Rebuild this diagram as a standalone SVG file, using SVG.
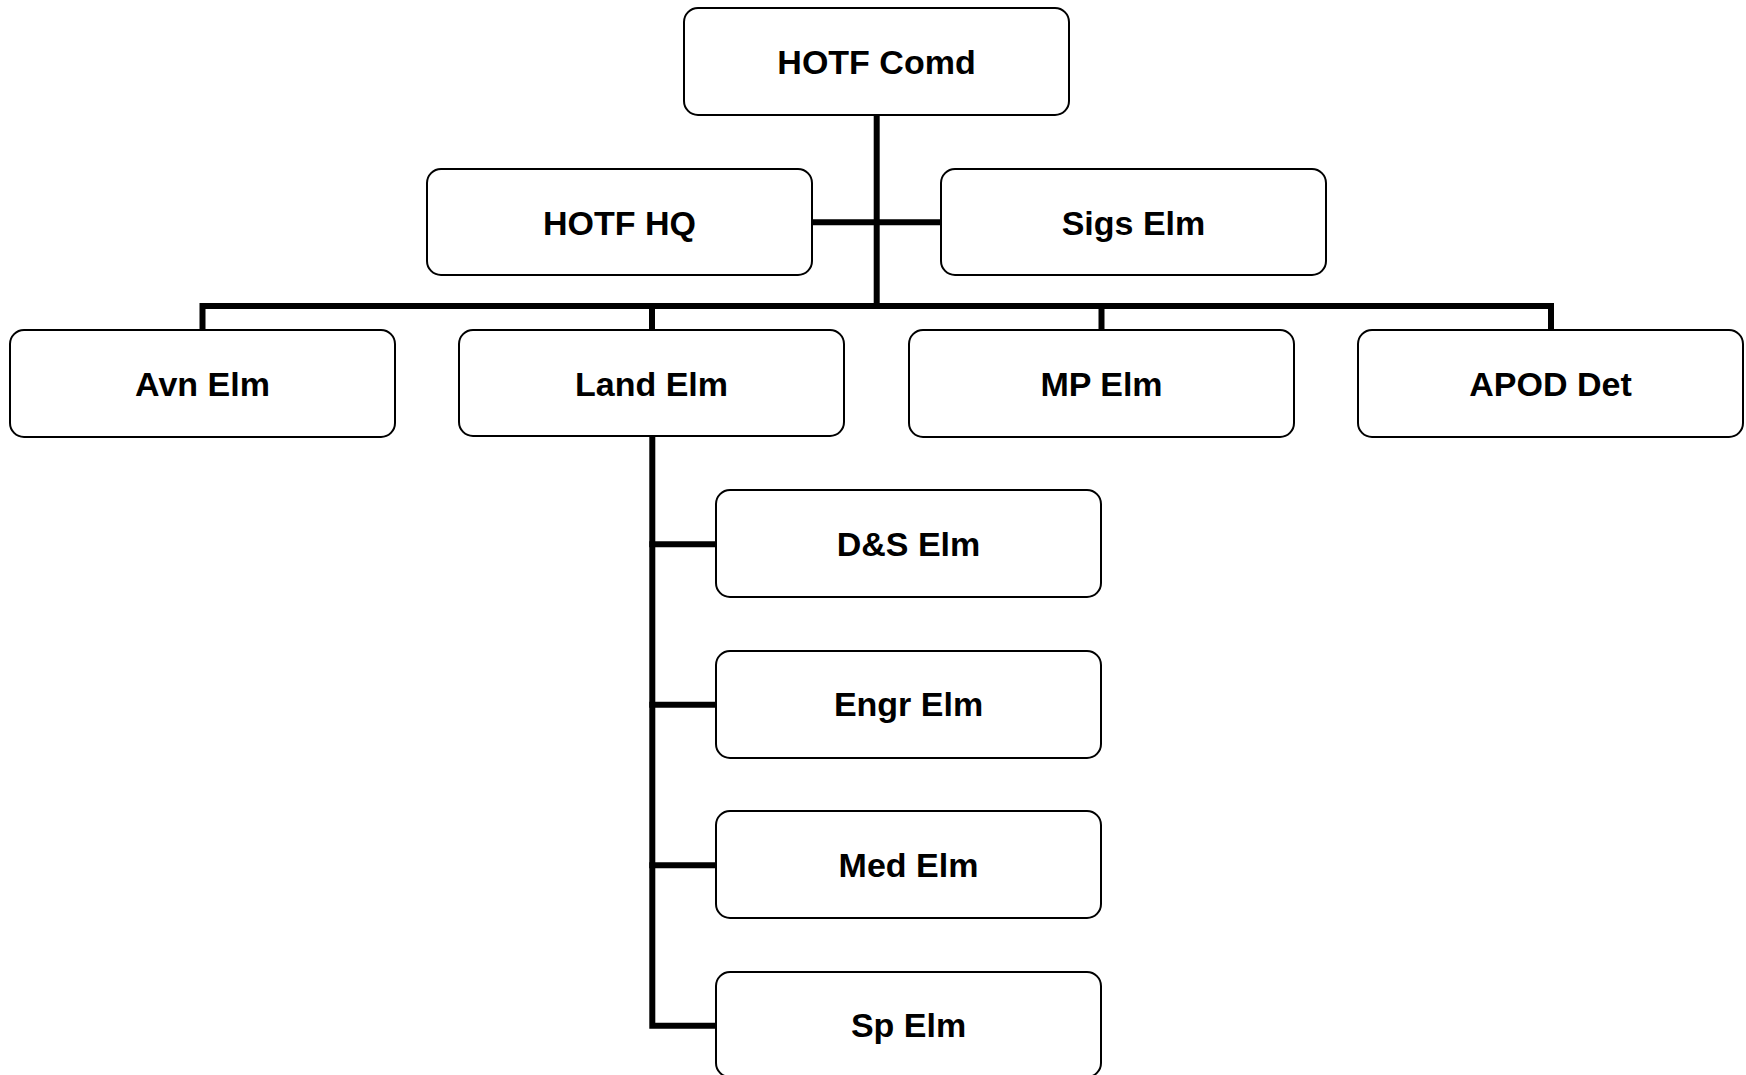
<svg xmlns="http://www.w3.org/2000/svg" width="1746" height="1075" viewBox="0 0 1746 1075">
<style>
.box{fill:#fff;stroke:#000;stroke-width:2}
.lbl{font-family:"Liberation Sans",Arial,sans-serif;font-weight:bold;font-size:34px;text-anchor:middle;fill:#000}
.conn{fill:none;stroke:#000;stroke-width:6;stroke-linecap:square}
</style>
<rect width="1746" height="1075" fill="#fff"/>
<g id="connectors">
<line class="conn" x1="876.7" y1="115" x2="876.7" y2="306"/>
<line class="conn" x1="812" y1="222.3" x2="940" y2="222.3"/>
<path class="conn" d="M202.5 329 V306 H1551 V329"/>
<line class="conn" x1="652" y1="306" x2="652" y2="329"/>
<line class="conn" x1="1101.5" y1="306" x2="1101.5" y2="329"/>
<path class="conn" d="M652.3 437 V1025.7 H715"/>
<line class="conn" x1="652.3" y1="544.3" x2="715" y2="544.3"/>
<line class="conn" x1="652.3" y1="704.8" x2="715" y2="704.8"/>
<line class="conn" x1="652.3" y1="865.2" x2="715" y2="865.2"/>
</g>
<g id="hotf-comd"><rect class="box" x="684" y="8" width="385" height="107" rx="14"/><text class="lbl" x="876.5" y="73.5">HOTF Comd</text></g>
<g id="hotf-hq"><rect class="box" x="427" y="169" width="385" height="106" rx="14"/><text class="lbl" x="619.5" y="234.5">HOTF HQ</text></g>
<g id="sigs-elm"><rect class="box" x="941" y="169" width="385" height="106" rx="14"/><text class="lbl" x="1133.5" y="234.5">Sigs Elm</text></g>
<g id="avn-elm"><rect class="box" x="10" y="330" width="385" height="107" rx="14"/><text class="lbl" x="202.5" y="395.5">Avn Elm</text></g>
<g id="land-elm"><rect class="box" x="459" y="330" width="385" height="106" rx="14"/><text class="lbl" x="651.5" y="395.5">Land Elm</text></g>
<g id="mp-elm"><rect class="box" x="909" y="330" width="385" height="107" rx="14"/><text class="lbl" x="1101.5" y="395.5">MP Elm</text></g>
<g id="apod-det"><rect class="box" x="1358" y="330" width="385" height="107" rx="14"/><text class="lbl" x="1550.5" y="395.5">APOD Det</text></g>
<g id="ds-elm"><rect class="box" x="716" y="490" width="385" height="107" rx="14"/><text class="lbl" x="908.5" y="555.5">D&amp;S Elm</text></g>
<g id="engr-elm"><rect class="box" x="716" y="651" width="385" height="107" rx="14"/><text class="lbl" x="908.5" y="716">Engr Elm</text></g>
<g id="med-elm"><rect class="box" x="716" y="811" width="385" height="107" rx="14"/><text class="lbl" x="908.5" y="876.5">Med Elm</text></g>
<g id="sp-elm"><rect class="box" x="716" y="972" width="385" height="105" rx="14"/><text class="lbl" x="908.5" y="1037">Sp Elm</text></g>
</svg>
